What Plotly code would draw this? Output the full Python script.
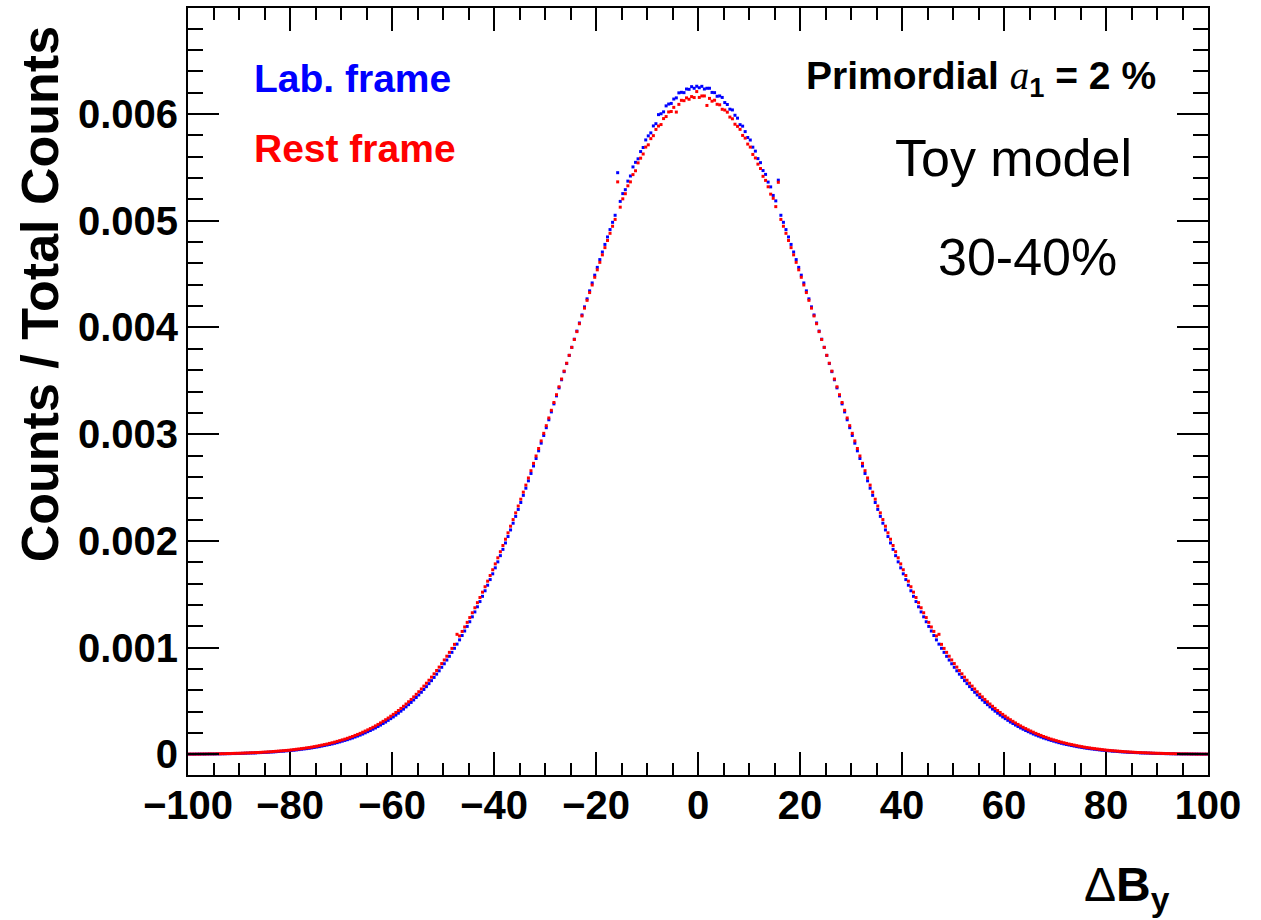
import plotly.graph_objects as go

# Histogram binning (400 bins from -100 to 100)
bin_lo, bin_hi, n_bins = -100.0, 100.0, 400
bin_w = (bin_hi - bin_lo) / n_bins
x_centers = [bin_lo + bin_w * (i + 0.5) for i in range(n_bins)]

# Values, in units of 1e-6 (Counts / Total Counts)
lab_frame_1e6 = [
    2, 2, 2, 3, 3, 3, 3, 4,
    4, 4, 4, 5, 5, 6, 6, 7, 7, 8,
    8, 9, 9, 10, 11, 12, 13, 13, 14, 16,
    17, 18, 19, 20, 22, 23, 25, 27, 29, 30,
    33, 35, 37, 39, 42, 45, 48, 51, 54, 57,
    61, 65, 69, 73, 78, 83, 88, 93, 98, 104,
    110, 117, 124, 131, 138, 146, 154, 163, 172, 181,
    191, 202, 213, 224, 236, 248, 261, 275, 289, 303,
    319, 335, 351, 368, 386, 405, 424, 445, 466, 487,
    510, 533, 557, 582, 608, 635, 663, 691, 721, 752,
    783, 816, 849, 884, 919, 956, 994, 1033, 1073, 1114,
    1156, 1199, 1243, 1289, 1335, 1383, 1432, 1481, 1533, 1585,
    1638, 1692, 1748, 1804, 1862, 1921, 1981, 2041, 2103, 2166,
    2230, 2295, 2360, 2427, 2494, 2563, 2632, 2702, 2772, 2844,
    2916, 2988, 3061, 3135, 3209, 3284, 3359, 3434, 3510, 3586,
    3662, 3738, 3814, 3890, 3966, 4042, 4117, 4193, 4268, 4343,
    4417, 4490, 4563, 4636, 4707, 4778, 4848, 4917, 4985, 5051,
    5450, 5181, 5254, 5291, 5371, 5419, 5504, 5547, 5580, 5648,
    5686, 5757, 5795, 5823, 5888, 5909, 5994, 6002, 6020, 6076,
    6093, 6099, 6140, 6151, 6198, 6203, 6200, 6234, 6231, 6256,
    6241, 6260,
    6246, 6259, 6234, 6241, 6241, 6202, 6200, 6166, 6169, 6155,
    6107, 6089, 6045, 6038, 5988, 5961, 5900, 5886, 5835, 5780,
    5756, 5689, 5652, 5582, 5544, 5470, 5434, 5362, 5317, 5237,
    5186, 5380,
    5051, 4985, 4917, 4848, 4778, 4707, 4636, 4563, 4490, 4417,
    4343, 4268, 4193, 4117, 4042, 3966, 3890, 3814, 3738, 3662,
    3586, 3510, 3434, 3359, 3284, 3209, 3135, 3061, 2988, 2916,
    2844, 2772, 2702, 2632, 2563, 2494, 2427, 2360, 2295, 2230,
    2166, 2103, 2041, 1981, 1921, 1862, 1804, 1748, 1692, 1638,
    1585, 1533, 1481, 1432, 1383, 1335, 1289, 1243, 1199, 1156,
    1114, 1073, 1033, 994, 956, 919, 884, 849, 816, 783,
    752, 721, 691, 663, 635, 608, 582, 557, 533, 510,
    487, 466, 445, 424, 405, 386, 368, 351, 335, 319,
    303, 289, 275, 261, 248, 236, 224, 213, 202, 191,
    181, 172, 163, 154, 146, 138, 131, 124, 117, 110,
    104, 98, 93, 88, 83, 78, 73, 69, 65, 61,
    57, 54, 51, 48, 45, 42, 39, 37, 35, 33,
    30, 29, 27, 25, 23, 22, 20, 19, 18, 17,
    16, 14, 13, 13, 12, 11, 10, 9, 9, 8,
    8, 7, 7, 6, 6, 5, 5, 4, 4, 4,
    4, 3, 3, 3, 3, 2, 2, 2,
]

rest_frame_1e6 = [
    3, 3, 3, 3, 3, 4, 4, 4,
    5, 5, 5, 6, 6, 7, 7, 8, 8, 9,
    10, 10, 11, 12, 13, 14, 15, 16, 17, 18,
    19, 21, 22, 24, 25, 27, 29, 31, 33, 35,
    37, 39, 42, 45, 48, 51, 54, 57, 61, 64,
    68, 73, 77, 82, 87, 92, 97, 103, 109, 115,
    122, 129, 136, 143, 151, 160, 168, 178, 187, 197,
    208, 219, 230, 242, 254, 267, 281, 295, 310, 325,
    341, 358, 375, 393, 411, 431, 451, 472, 493, 515,
    539, 563, 587, 613, 640, 667, 695, 724, 755, 786,
    818, 851, 885, 920, 956, 993, 1031, 1125, 1110, 1152,
    1194, 1237, 1282, 1327, 1374, 1422, 1470, 1520, 1571, 1623,
    1676, 1730, 1785, 1842, 1899, 1957, 2016, 2076, 2138, 2200,
    2263, 2327, 2391, 2457, 2523, 2590, 2658, 2727, 2796, 2866,
    2937, 3008, 3080, 3152, 3224, 3297, 3370, 3444, 3517, 3591,
    3665, 3739, 3813, 3887, 3961, 4035, 4108, 4181, 4254, 4327,
    4398, 4470, 4540, 4610, 4680, 4748, 4815, 4882, 4948, 5012,
    5364, 5127, 5205, 5253, 5327, 5364, 5432, 5468, 5542, 5586,
    5625, 5690, 5711, 5769, 5797, 5855, 5887, 5901, 5957, 5976,
    6019, 6023, 6062, 6018, 6090, 6128, 6125, 6151, 6138, 6163,
    6154, 6210,
    6155, 6169, 6169, 6080, 6146, 6120, 6129, 6091, 6086, 6044,
    6037, 6017, 5971, 5955, 5904, 5884, 5856, 5799, 5774, 5718,
    5690, 5621, 5588, 5530, 5489, 5416, 5378, 5318, 5249, 5210,
    5132, 5360,
    5012, 4948, 4882, 4815, 4748, 4680, 4610, 4540, 4470, 4398,
    4327, 4254, 4181, 4108, 4035, 3961, 3887, 3813, 3739, 3665,
    3591, 3517, 3444, 3370, 3297, 3224, 3152, 3080, 3008, 2937,
    2866, 2796, 2727, 2658, 2590, 2523, 2457, 2391, 2327, 2263,
    2200, 2138, 2076, 2016, 1957, 1899, 1842, 1785, 1730, 1676,
    1623, 1571, 1520, 1470, 1422, 1374, 1327, 1282, 1237, 1194,
    1152, 1110, 1125, 1031, 993, 956, 920, 885, 851, 818,
    786, 755, 724, 695, 667, 640, 613, 587, 563, 539,
    515, 493, 472, 451, 431, 411, 393, 375, 358, 341,
    325, 310, 295, 281, 267, 254, 242, 230, 219, 208,
    197, 187, 178, 168, 160, 151, 143, 136, 129, 122,
    115, 109, 103, 97, 92, 87, 82, 77, 73, 68,
    64, 61, 57, 54, 51, 48, 45, 42, 39, 37,
    35, 33, 31, 29, 27, 25, 24, 22, 21, 19,
    18, 17, 16, 15, 14, 13, 12, 11, 10, 10,
    9, 8, 8, 7, 7, 6, 6, 5, 5, 5,
    4, 4, 4, 3, 3, 3, 3, 3,
]

series_names = ["Lab. frame", "Rest frame"]
series_colors = ["#0000ff", "#ff0000"]

x_range = [-100, 100]
y_range = [-0.000193, 0.006993]

lab_vals = [v * 1e-6 for v in lab_frame_1e6]
rest_vals = [v * 1e-6 for v in rest_frame_1e6]

fig = go.Figure()
for name, vals, col in zip(series_names, [lab_vals, rest_vals], series_colors):
    fig.add_trace(go.Scatter(
        x=x_centers, y=vals, mode="markers", name=name,
        marker=dict(symbol="square", size=3, color=col, line=dict(width=0)),
        showlegend=False,
    ))

tickfont = dict(family="Liberation Sans, Arial, sans-serif", size=40, color="black", weight="bold")

fig.update_layout(
    width=1261, height=920,
    margin=dict(l=188, r=53, t=6, b=145),
    paper_bgcolor="white", plot_bgcolor="white",
    xaxis=dict(
        range=x_range, tickmode="linear", tick0=-100, dtick=20,
        ticks="inside", ticklen=23, tickwidth=2, tickcolor="black",
        minor=dict(dtick=5, ticks="inside", ticklen=12, tickwidth=2, tickcolor="black"),
        showline=True, linewidth=2, linecolor="black", mirror="ticks",
        showgrid=False, zeroline=False, tickfont=tickfont,
        ticklabelstandoff=-6,
    ),
    yaxis=dict(
        range=y_range, tickmode="linear", tick0=0, dtick=0.001,
        ticks="inside", ticklen=31, tickwidth=2, tickcolor="black",
        minor=dict(dtick=0.0002, ticks="inside", ticklen=15, tickwidth=2, tickcolor="black"),
        showline=True, linewidth=2, linecolor="black", mirror="ticks",
        showgrid=False, zeroline=False, tickfont=tickfont,
    ),
)

def px2paper(px, py):
    return (px - 188) / 1020.0, (775 - py) / 769.0

ann = []
bold = "Liberation Sans, Arial, sans-serif"

x, y = px2paper(252, 77)
ann.append(dict(text="<b>Lab. frame</b>", x=x, y=y, xanchor="left", yanchor="middle",
                font=dict(family=bold, size=39, color="#0000ff")))
x, y = px2paper(252, 147)
ann.append(dict(text="<b>Rest frame</b>", x=x, y=y, xanchor="left", yanchor="middle",
                font=dict(family=bold, size=39, color="#ff0000")))
x, y = px2paper(804, 77)
ann.append(dict(text="<b>Primordial </b><span style=\"font-family:'Liberation Serif';font-weight:normal\"><i>a</i></span><b><sub>1</sub> = 2 %</b>",
                x=x, y=y, xanchor="left", yanchor="middle",
                font=dict(family=bold, size=39, color="black")))
x, y = px2paper(893, 156)
ann.append(dict(text="Toy model", x=x, y=y, xanchor="left", yanchor="middle",
                font=dict(family=bold, size=52, color="black")))
x, y = px2paper(936, 256)
ann.append(dict(text="30-40%", x=x, y=y, xanchor="left", yanchor="middle",
                font=dict(family=bold, size=52, color="black")))
# axis titles
x, y = px2paper(40, 293)
ann.append(dict(text="<b>Counts / Total Counts</b>", x=x, y=y, xanchor="center", yanchor="middle",
                textangle=-90, font=dict(family=bold, size=52, color="black")))
x, y = px2paper(1172, 888)
ann.append(dict(text="\u0394<b>B<sub>y</sub></b>", x=x, y=y, xanchor="right", yanchor="middle",
                font=dict(family=bold, size=48, color="black")))

for a in ann:
    a.update(xref="paper", yref="paper", showarrow=False)
fig.update_layout(annotations=ann)

fig.write_html("out.html")
